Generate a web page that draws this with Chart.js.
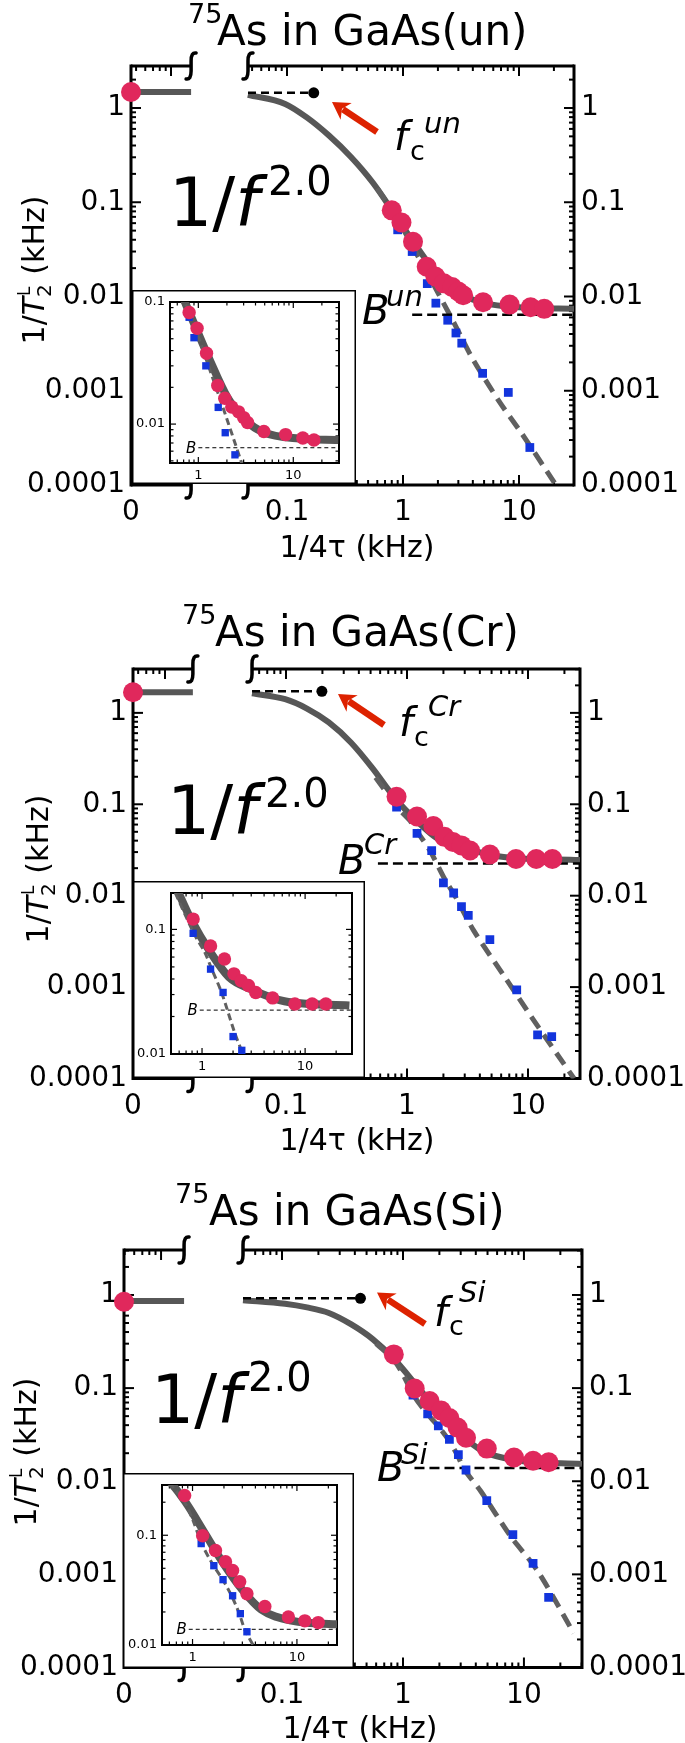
<!DOCTYPE html>
<html>
<head>
<meta charset="utf-8">
<title>75As in GaAs</title>
<script src="https://cdn.jsdelivr.net/npm/chart.js@4.4.1/dist/chart.umd.min.js"></script>
<style>
  html, body { margin: 0; padding: 0; background: #fff; }
  #page { position: relative; width: 685px; height: 1743px; overflow: hidden; background: #fff; }
  .panel { position: absolute; left: 0; width: 685px; }
  .panel canvas { position: absolute; display: block; }
</style>
</head>
<body>
<div id="page"></div>
<script>
// ================= DATA =================
// x = 1/4tau (kHz), y = 1/T2L (kHz)

// ---- GaAs(un) ----
const unRedX   = [0, 0.80, 0.97, 1.22, 1.60, 1.90, 2.25, 2.65, 3.0, 3.3, 4.9, 8.3, 12.6, 16.5];
const unRedY   = [1.48, 0.082, 0.061, 0.038, 0.0207, 0.0163, 0.0138, 0.0126, 0.0113, 0.0103, 0.0087, 0.0082, 0.0077, 0.0074];
const unBlueX  = [0.80, 0.90, 1.20, 1.62, 1.92, 2.43, 2.86, 3.21, 4.86, 8.09, 12.4];
const unBlueY  = [0.075, 0.051, 0.030, 0.0137, 0.0085, 0.0056, 0.0041, 0.0032, 0.00153, 0.00096, 0.00025];
const unFitX   = [0.046, 0.0964, 0.149, 0.230, 0.356, 0.55, 0.848, 1.31, 2.03, 3.16, 4.8, 11.5, 29.8];
const unFitY   = [1.38, 1.105, 0.79, 0.51, 0.302, 0.161, 0.0745, 0.0339, 0.0165, 0.0107, 0.0086, 0.0076, 0.0074];
const unSlopeX = [0.6, 0.72, 0.83, 1.0, 1.26, 1.76, 2.86, 3.93, 6.7, 10.7, 20.8];
const unSlopeY = [0.14, 0.1, 0.073, 0.052, 0.031, 0.0147, 0.0048, 0.00225, 0.00078, 0.000344, 0.0001];
const unLow    = 1.48;            // value at 1/4tau = 0
const unFc     = [0.17, 1.45];
const unB      = [1.2, 0.0064];   // start of the B line, level
const unBreak  = [0.0149, 0.0461];

// ---- GaAs(Cr) ----
const crRedX   = [0, 0.82, 1.21, 1.65, 2.04, 2.40, 2.82, 3.32, 4.84, 7.96, 11.7, 15.9];
const crRedY   = [1.68, 0.121, 0.0735, 0.0578, 0.044, 0.0387, 0.0355, 0.0312, 0.0282, 0.0252, 0.0252, 0.0252];
const crBlueX  = [0.82, 1.21, 1.60, 2.00, 2.43, 2.82, 3.21, 4.84, 8.07, 12.0, 15.7];
const crBlueY  = [0.093, 0.048, 0.0312, 0.0138, 0.0107, 0.0076, 0.0061, 0.0033, 0.00093, 0.0003, 0.000287];
const crFitX   = [0.0524, 0.0984, 0.149, 0.226, 0.344, 0.52, 0.79, 1.2, 1.82, 3.01, 6.3, 26.9];
const crFitY   = [1.64, 1.41, 1.114, 0.785, 0.474, 0.247, 0.118, 0.066, 0.0415, 0.033, 0.0265, 0.0245];
const crSlopeX = [0.55, 0.85, 1.06, 1.23, 1.55, 2.08, 2.51, 3.54, 6.35, 10.7, 24];
const crSlopeY = [0.196, 0.09, 0.066, 0.049, 0.031, 0.0147, 0.0098, 0.0042, 0.00132, 0.00047, 0.0001];
const crLow    = 1.68;
const crFc     = [0.198, 1.72];
const crB      = [0.575, 0.0225];
const crBreak  = [0.017, 0.0524];

// ---- GaAs(Si) ----
const siRedX   = [0, 0.84, 1.25, 1.66, 2.07, 2.42, 2.83, 3.32, 4.93, 8.28, 11.9, 16.0];
const siRedY   = [0.845, 0.23, 0.099, 0.0727, 0.0574, 0.0478, 0.0377, 0.0293, 0.0224, 0.018, 0.0166, 0.016];
const siBlueX  = [1.21, 1.60, 1.96, 2.42, 2.87, 3.32, 4.93, 8.10, 11.9, 16.0];
const siBlueY  = [0.084, 0.0528, 0.0394, 0.0281, 0.0193, 0.0132, 0.0062, 0.00267, 0.00131, 0.000565];
const siFitX   = [0.0476, 0.106, 0.161, 0.244, 0.371, 0.562, 0.853, 1.30, 1.97, 2.99, 4.54, 8.83, 30.2];
const siFitY   = [0.88, 0.806, 0.736, 0.641, 0.486, 0.336, 0.202, 0.106, 0.0555, 0.0319, 0.0211, 0.0167, 0.0153];
const siSlopeX = [0.6, 0.84, 1.0, 1.23, 1.55, 1.94, 2.35, 2.8, 3.2, 4.4, 7.77, 12.9, 25.8];
const siSlopeY = [0.3, 0.2, 0.14, 0.083, 0.055, 0.0395, 0.0285, 0.0194, 0.0135, 0.0078, 0.00256, 0.0011, 0.000234];
const siLow    = 0.86;
const siFc     = [0.445, 0.92];
const siB      = [1.245, 0.0139];
const siBreak  = [0.0155, 0.0476];

// ---- ticks ----
const yTicks       = [1, 0.1, 0.01, 0.001, 0.0001];
const yTickLabels  = ['1', '0.1', '0.01', '0.001', '0.0001'];
const xTicks       = [0.1, 1, 10];            // "0" is put at the left end
const xTickLabels  = ['0', '0.1', '1', '10'];
const inXTicks     = [1, 10];
const inXLabels    = ['1', '10'];
const inYTicks     = [0.1, 0.01];
const inYLabels    = ['0.1', '0.01'];

const samples = [
  {name: 'un', redX: unRedX, redY: unRedY, blueX: unBlueX, blueY: unBlueY, fitX: unFitX, fitY: unFitY,
   slopeX: unSlopeX, slopeY: unSlopeY, low: unLow, fc: unFc, B: unB, brk: unBreak, bIn: 1.0},
  {name: 'Cr', redX: crRedX, redY: crRedY, blueX: crBlueX, blueY: crBlueY, fitX: crFitX, fitY: crFitY,
   slopeX: crSlopeX, slopeY: crSlopeY, low: crLow, fc: crFc, B: crB, brk: crBreak, bIn: 0.95},
  {name: 'Si', redX: siRedX, redY: siRedY, blueX: siBlueX, blueY: siBlueY, fitX: siFitX, fitY: siFitY,
   slopeX: siSlopeX, slopeY: siSlopeY, low: siLow, fc: siFc, B: siB, brk: siBreak, bIn: 0.92}
];

// ================= LAYOUT =================
const W = 685;
const panels = [
  {top: 0, h: 580, frame: {l: 131, r: 574, t: 66, b: 485}, xr: [0.00452, 29.8], yr: [1e-4, 2.79],
   title: {x75: 188, x: 217, y: 45}, big: {x: 169, y: 226, sx: 268, sy: 195},
   fc: {x: 394, y: 150, cx: 410, cy: 160, sx: 424, sy: 133}, arrow: [377, 132, 332, 102],
   bl: {x: 362, y: 324, sx: 386, sy: 306}, ylab: {x: 33, y: 270}, xlab: {x: 357, y: 557},
   inset: {l: 132, t: 290, w: 224, h: 194, pad: [38, 17, 12, 21], xr: [0.503, 30.3], yr: [0.0048, 0.1]}},
  {top: 580, h: 580, frame: {l: 133, r: 580, t: 89, b: 498.5}, xr: [0.00544, 26.9], yr: [1e-4, 3.02],
   title: {x75: 182, x: 215, y: 66}, big: {x: 167, y: 254, sx: 265, sy: 227},
   fc: {x: 399, y: 156, cx: 414, cy: 166, sx: 428, sy: 136}, arrow: [384, 145, 338, 114],
   bl: {x: 338, y: 294, sx: 364, sy: 274}, ylab: {x: 37, y: 289}, xlab: {x: 357, y: 570},
   inset: {l: 133, t: 301, w: 232, h: 197, pad: [38, 13, 12, 24], xr: [0.50, 28.5], yr: [0.01, 0.196]}},
  {top: 1160, h: 583, frame: {l: 124, r: 582, t: 90, b: 507.5}, xr: [0.00494, 30.2], yr: [1e-4, 3.04],
   title: {x75: 175, x: 209, y: 65}, big: {x: 151, y: 263, sx: 248, sy: 231},
   fc: {x: 434, y: 166, cx: 449, cy: 175, sx: 459, sy: 142}, arrow: [425, 164, 377, 132.5],
   bl: {x: 377, y: 321, sx: 401, sy: 304}, ylab: {x: 25, y: 292}, xlab: {x: 360, y: 578},
   inset: {l: 123, t: 313, w: 231, h: 195, pad: [39, 17, 12, 23], xr: [0.51, 24.2], yr: [0.01, 0.287]}}
];

const FONT = '"DejaVu Sans", sans-serif';
const RED = '#e0285c';
const BLUE = '#1234dc';
const GRAY = '#575757';
const GRAY2 = '#606060';

// ================= HELPERS =================
function pts(xs, ys, zeroAt) {
  const out = [];
  xs.forEach((x, i) => {
    if (x === 0) { if (zeroAt) out.push({x: zeroAt, y: ys[i]}); }
    else out.push({x: x, y: ys[i]});
  });
  return out;
}

function logTicks(lo, hi) {
  const out = [];
  for (let e = Math.floor(Math.log10(lo)); e <= Math.ceil(Math.log10(hi)); e++) {
    for (let k = 1; k <= 9; k++) {
      const v = k * Math.pow(10, e);
      if (v > lo * 1.001 && v < hi / 1.001) out.push({v: v, major: k === 1});
    }
  }
  return out;
}

function put(ctx, s, x, y, size, italic, align) {
  ctx.font = (italic ? 'italic ' : '') + size + 'px ' + FONT;
  ctx.textAlign = align || 'left';
  ctx.textBaseline = 'alphabetic';
  ctx.fillStyle = '#000';
  ctx.fillText(s, x, y);
  return ctx.measureText(s).width;
}

function seg(ctx, x1, y1, x2, y2) {
  ctx.beginPath(); ctx.moveTo(x1, y1); ctx.lineTo(x2, y2); ctx.stroke();
}

function squiggle(ctx, x, y) {
  ctx.lineWidth = 3.5;
  ctx.lineCap = 'round';
  ctx.beginPath();
  ctx.moveTo(x + 5, y - 13);
  ctx.quadraticCurveTo(x, y - 14, x, y - 5);
  ctx.lineTo(x, y + 5);
  ctx.quadraticCurveTo(x, y + 14, x - 5, y + 13);
  ctx.stroke();
  ctx.lineCap = 'butt';
}

function arrow(ctx, x1, y1, x2, y2) {
  const a = Math.atan2(y2 - y1, x2 - x1);
  const hl = 17, hw = 10;
  const bx = x2 - hl * Math.cos(a), by = y2 - hl * Math.sin(a);
  ctx.strokeStyle = '#dd2200';
  ctx.fillStyle = '#dd2200';
  ctx.lineWidth = 6.5;
  seg(ctx, x1, y1, bx + 4 * Math.cos(a), by + 4 * Math.sin(a));
  ctx.beginPath();
  ctx.moveTo(x2, y2);
  ctx.lineTo(bx + hw * Math.sin(a), by - hw * Math.cos(a));
  ctx.lineTo(bx + 5 * Math.cos(a), by + 5 * Math.sin(a));
  ctx.lineTo(bx - hw * Math.sin(a), by + hw * Math.cos(a));
  ctx.closePath();
  ctx.fill();
}

function noPad(s) { s.paddingTop = 0; s.paddingBottom = 0; s.paddingLeft = 0; s.paddingRight = 0; }

// ================= MAIN PLOT =================
function mainPlugin(P, D) {
  return {
    id: 'mainDeco',
    beforeDatasetsDraw(chart) {
      const {ctx, chartArea: a, scales: {x, y}} = chart;
      const g0 = x.getPixelForValue(D.brk[0]), g1 = x.getPixelForValue(D.brk[1]);
      ctx.save();
      ctx.setLineDash([]);
      ctx.strokeStyle = '#000';
      // inward ticks
      ctx.lineWidth = 2;
      logTicks(P.yr[0], P.yr[1]).forEach(t => {
        const py = y.getPixelForValue(t.v), L = t.major ? 10 : 5;
        seg(ctx, a.left, py, a.left + L, py);
        seg(ctx, a.right, py, a.right - L, py);
      });
      logTicks(P.xr[0], P.xr[1]).forEach(t => {
        const px = x.getPixelForValue(t.v), L = t.major ? 10 : 5;
        if (px > g0 - 3 && px < g1 + 3) return;
        seg(ctx, px, a.top, px, a.top + L);
        seg(ctx, px, a.bottom, px, a.bottom - L);
      });
      // frame with the axis break
      ctx.lineWidth = 3;
      seg(ctx, a.left, a.top - 1.5, a.left, a.bottom + 1.5);
      seg(ctx, a.right, a.top - 1.5, a.right, a.bottom + 1.5);
      seg(ctx, a.left, a.top, g0, a.top);
      seg(ctx, g1, a.top, a.right, a.top);
      seg(ctx, a.left, a.bottom, g0, a.bottom);
      seg(ctx, g1, a.bottom, a.right, a.bottom);
      [g0, g1].forEach(g => { squiggle(ctx, g, a.top); squiggle(ctx, g, a.bottom); });
      ctx.restore();
    },
    afterDatasetsDraw(chart) {
      const ctx = chart.ctx;
      ctx.save();
      ctx.setLineDash([]);
      // title
      put(ctx, '75', P.title.x75, P.title.y - 22, 27);
      put(ctx, 'As in GaAs(' + D.name + ')', P.title.x, P.title.y, 42);
      // 1/f^2.0
      const w = put(ctx, '1/', P.big.x, P.big.y, 68);
      put(ctx, 'f', P.big.x + w, P.big.y, 68, true);
      put(ctx, '2.0', P.big.sx, P.big.sy, 40);
      // f_c
      put(ctx, 'f', P.fc.x, P.fc.y, 40, true);
      put(ctx, 'c', P.fc.cx, P.fc.cy, 27);
      put(ctx, D.name, P.fc.sx, P.fc.sy, 29, true);
      // B
      put(ctx, 'B', P.bl.x, P.bl.y, 40, true);
      put(ctx, D.name, P.bl.sx, P.bl.sy, 29, true);
      arrow(ctx, P.arrow[0], P.arrow[1], P.arrow[2], P.arrow[3]);
      // axis titles
      put(ctx, '1/4\u03C4 (kHz)', P.xlab.x, P.xlab.y, 30, false, 'center');
      ctx.translate(P.ylab.x, P.ylab.y);
      ctx.rotate(-Math.PI / 2);
      ctx.font = '30px ' + FONT; const w1 = ctx.measureText('1/').width;
      ctx.font = 'italic 30px ' + FONT; const w2 = ctx.measureText('T').width;
      ctx.font = '20px ' + FONT; const w3 = ctx.measureText('2').width;
      ctx.font = '30px ' + FONT; const w4 = ctx.measureText(' (kHz)').width;
      let sx = -(w1 + w2 + w3 + w4) / 2;
      const by = 11;
      put(ctx, '1/', sx, by, 30); sx += w1;
      put(ctx, 'T', sx, by, 30, true); sx += w2;
      put(ctx, '2', sx, by + 7, 20);
      put(ctx, 'L', sx + 1, by - 14, 17);
      sx += w3;
      put(ctx, ' (kHz)', sx, by, 30);
      ctx.restore();
    }
  };
}

function mainChart(canvas, P, D) {
  const f = P.frame;
  const tickFont = {family: 'DejaVu Sans', size: 28};
  const yAxis = (pos) => ({
    type: 'logarithmic', position: pos, min: P.yr[0], max: P.yr[1],
    grid: {display: false, drawTicks: false}, border: {display: false},
    afterBuildTicks: s => { s.ticks = yTicks.map(v => ({value: v})); },
    afterFit: s => { s.width = pos === 'left' ? f.l : W - f.r; noPad(s); },
    ticks: {autoSkip: false, padding: pos === 'left' ? 6 : 7, color: '#000', font: tickFont,
            callback: (v, i) => yTickLabels[i]}
  });
  return new Chart(canvas, {
    type: 'scatter',
    data: {
      datasets: [
        {data: pts(D.redX, D.redY, P.xr[0]), pointRadius: 10, backgroundColor: RED, borderWidth: 0, clip: false},
        {data: pts(D.blueX, D.blueY), pointStyle: 'rect', pointRadius: 6.2, backgroundColor: BLUE, borderWidth: 0},
        {data: [{x: D.fc[0], y: D.fc[1]}], pointRadius: 5.5, backgroundColor: '#000', borderWidth: 0},
        {data: [{x: D.brk[1], y: D.fc[1]}, {x: D.fc[0], y: D.fc[1]}], showLine: true, pointRadius: 0,
         borderColor: '#000', borderWidth: 2.5, borderDash: [8, 5]},
        {data: [{x: D.B[0], y: D.B[1]}, {x: P.xr[1], y: D.B[1]}], showLine: true, pointRadius: 0,
         borderColor: '#000', borderWidth: 2.5, borderDash: [10, 5]},
        {data: pts(D.slopeX, D.slopeY), showLine: true, pointRadius: 0, borderColor: GRAY2,
         borderWidth: 5, borderDash: [14, 8], tension: 0.3},
        {data: pts(D.fitX, D.fitY), showLine: true, pointRadius: 0, borderColor: GRAY,
         borderWidth: 6, cubicInterpolationMode: 'monotone'},
        {data: pts([0, D.brk[0]], [D.low, D.low], P.xr[0]), showLine: true, pointRadius: 0,
         borderColor: GRAY, borderWidth: 6}
      ].map(d => Object.assign({xAxisID: 'x', yAxisID: 'y'}, d))
    },
    options: {
      responsive: false, animation: false, devicePixelRatio: 1, events: [],
      layout: {padding: {top: f.t, left: 0, right: 0, bottom: 0}},
      plugins: {legend: {display: false}, tooltip: {enabled: false}},
      scales: {
        x: {type: 'logarithmic', position: 'bottom', min: P.xr[0], max: P.xr[1],
            grid: {display: false, drawTicks: false}, border: {display: false},
            afterBuildTicks: s => { s.ticks = [P.xr[0]].concat(xTicks).map(v => ({value: v})); },
            afterFit: s => { s.height = P.h - f.b; noPad(s); },
            ticks: {autoSkip: false, maxRotation: 0, padding: 11, color: '#000', font: tickFont,
                    callback: (v, i) => xTickLabels[i]}},
        y: yAxis('left'),
        y2: yAxis('right')
      }
    },
    plugins: [mainPlugin(P, D)]
  });
}

// ================= INSET =================
function insetPlugin(P, D) {
  return {
    id: 'insetDeco',
    beforeDraw(chart) {
      const ctx = chart.ctx;
      ctx.save();
      ctx.fillStyle = '#fff';
      ctx.fillRect(0, 0, chart.width, chart.height);
      ctx.strokeStyle = '#000';
      ctx.lineWidth = 1.5;
      ctx.strokeRect(0.75, 0.75, chart.width - 1.5, chart.height - 1.5);
      ctx.restore();
    },
    beforeDatasetsDraw(chart) {
      const {ctx, chartArea: a, scales: {x, y}} = chart;
      ctx.save();
      ctx.strokeStyle = '#000';
      ctx.lineWidth = 1.2;
      logTicks(P.inset.yr[0], P.inset.yr[1]).forEach(t => {
        const py = y.getPixelForValue(t.v), L = t.major ? 6 : 3.5;
        seg(ctx, a.left, py, a.left + L, py);
        seg(ctx, a.right, py, a.right - L, py);
      });
      logTicks(P.inset.xr[0], P.inset.xr[1]).forEach(t => {
        const px = x.getPixelForValue(t.v), L = t.major ? 6 : 3.5;
        seg(ctx, px, a.top, px, a.top + L);
        seg(ctx, px, a.bottom, px, a.bottom - L);
      });
      ctx.lineWidth = 2;
      ctx.strokeRect(a.left, a.top, a.right - a.left, a.bottom - a.top);
      ctx.restore();
    },
    afterDatasetsDraw(chart) {
      const {ctx, scales: {x, y}} = chart;
      ctx.save();
      put(ctx, 'B', x.getPixelForValue(D.bIn) - 2, y.getPixelForValue(D.B[1]) + 5, 15, true, 'right');
      ctx.restore();
    }
  };
}

function insetChart(canvas, P, D) {
  const I = P.inset;
  const tickFont = {family: 'DejaVu Sans', size: 13};
  return new Chart(canvas, {
    type: 'scatter',
    data: {
      datasets: [
        {data: pts(D.redX, D.redY), pointRadius: 6.7, backgroundColor: RED, borderWidth: 0},
        {data: pts(D.blueX, D.blueY), pointStyle: 'rect', pointRadius: 5.2, backgroundColor: BLUE, borderWidth: 0},
        {data: [{x: D.bIn, y: D.B[1]}, {x: I.xr[1], y: D.B[1]}], showLine: true, pointRadius: 0,
         borderColor: '#000', borderWidth: 1, borderDash: [4, 3]},
        {data: pts(D.slopeX, D.slopeY), showLine: true, pointRadius: 0, borderColor: GRAY2,
         borderWidth: 3, borderDash: [7, 4], tension: 0.3},
        {data: pts(D.fitX, D.fitY), showLine: true, pointRadius: 0, borderColor: GRAY,
         borderWidth: 8, cubicInterpolationMode: 'monotone'}
      ]
    },
    options: {
      responsive: false, animation: false, devicePixelRatio: 1, events: [],
      layout: {padding: {top: I.pad[2], right: I.pad[1], left: 0, bottom: 0}},
      plugins: {legend: {display: false}, tooltip: {enabled: false}},
      scales: {
        x: {type: 'logarithmic', position: 'bottom', min: I.xr[0], max: I.xr[1],
            grid: {display: false, drawTicks: false}, border: {display: false},
            afterBuildTicks: s => { s.ticks = inXTicks.map(v => ({value: v})); },
            afterFit: s => { s.height = I.pad[3]; noPad(s); },
            ticks: {autoSkip: false, maxRotation: 0, padding: 5, color: '#000', font: tickFont,
                    callback: (v, i) => inXLabels[i]}},
        y: {type: 'logarithmic', position: 'left', min: I.yr[0], max: I.yr[1],
            grid: {display: false, drawTicks: false}, border: {display: false},
            afterBuildTicks: s => { s.ticks = inYTicks.map(v => ({value: v})); },
            afterFit: s => { s.width = I.pad[0]; noPad(s); },
            ticks: {autoSkip: false, padding: 5, color: '#000', font: tickFont,
                    callback: (v, i) => inYLabels[i]}}
      }
    },
    plugins: [insetPlugin(P, D)]
  });
}

// ================= BUILD =================
const page = document.getElementById('page');
panels.forEach((P, i) => {
  const div = document.createElement('div');
  div.className = 'panel';
  div.style.top = P.top + 'px';
  div.style.height = P.h + 'px';
  const c1 = document.createElement('canvas');
  c1.width = W; c1.height = P.h;
  c1.style.left = '0px'; c1.style.top = '0px';
  const c2 = document.createElement('canvas');
  c2.width = P.inset.w; c2.height = P.inset.h;
  c2.style.left = P.inset.l + 'px'; c2.style.top = P.inset.t + 'px';
  div.appendChild(c1);
  div.appendChild(c2);
  page.appendChild(div);
  mainChart(c1, P, samples[i]);
  insetChart(c2, P, samples[i]);
});
</script>
</body>
</html>
